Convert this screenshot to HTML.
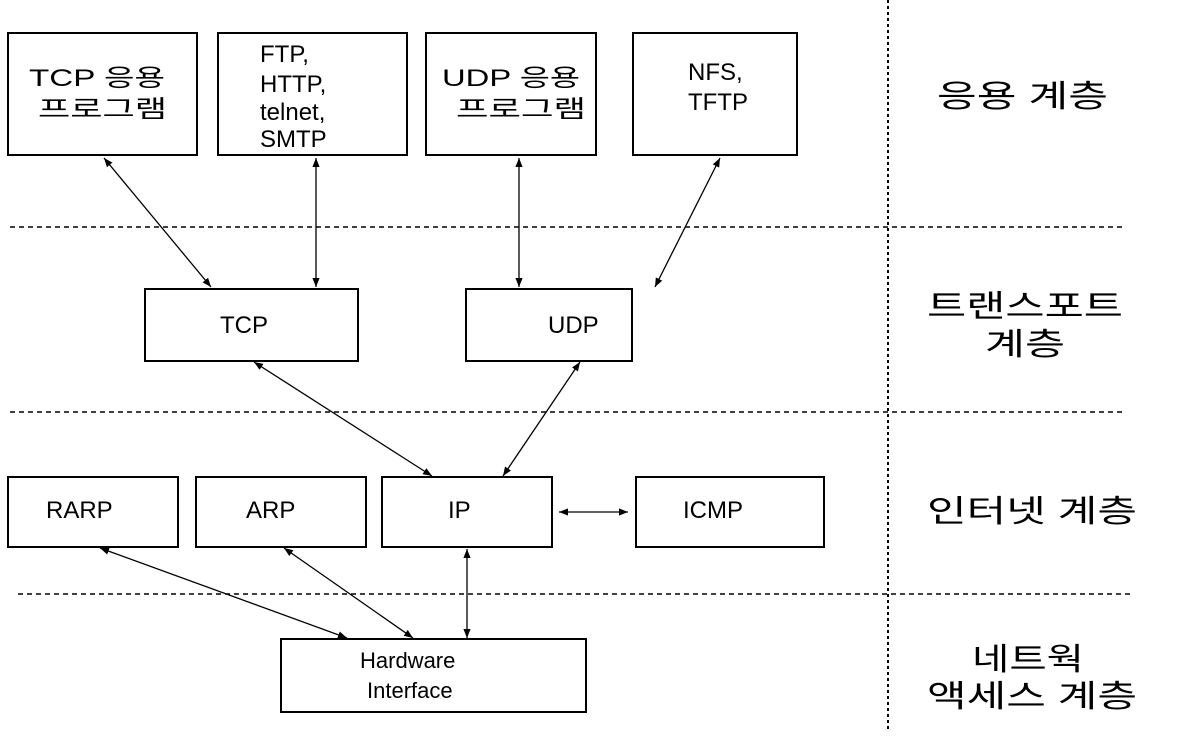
<!DOCTYPE html>
<html><head><meta charset="utf-8"><style>
body{margin:0;background:#fff}
svg text{font-family:"Liberation Sans","Noto Sans CJK KR",sans-serif;fill:#000}
</style></head><body>
<svg width="1196" height="737" viewBox="0 0 1196 737" xmlns="http://www.w3.org/2000/svg">
<defs>
<marker id="a" viewBox="0 0 10 10" refX="10" refY="5" markerWidth="9" markerHeight="9" orient="auto-start-reverse" markerUnits="userSpaceOnUse"><path d="M0,1 L10,5 L0,9 z" fill="#000"/></marker>
</defs>
<g stroke="#000" stroke-width="1.5" stroke-dasharray="5,4" fill="none">
<line x1="10" y1="227" x2="1125" y2="227"/>
<line x1="10" y1="412" x2="1125" y2="412"/>
<line x1="18" y1="594" x2="1130" y2="594"/>
<line x1="888" y1="0" x2="888" y2="730" stroke-width="2" stroke-dasharray="3,3"/>
</g>
<g stroke="#000" stroke-width="2" fill="#fff">
<rect x="8" y="33" width="189" height="122"/>
<rect x="218" y="33" width="189" height="122"/>
<rect x="426" y="33" width="170" height="122"/>
<rect x="633" y="33" width="164" height="122"/>
<rect x="145" y="289" width="213" height="72"/>
<rect x="466" y="289" width="166" height="72"/>
<rect x="8" y="477" width="170" height="70"/>
<rect x="196" y="477" width="170" height="70"/>
<rect x="382" y="477" width="170" height="70"/>
<rect x="636" y="477" width="188" height="70"/>
<rect x="281" y="639" width="305" height="73"/>
</g>
<g stroke="#000" stroke-width="1.3" marker-start="url(#a)" marker-end="url(#a)">
<line x1="104" y1="158" x2="211" y2="287"/>
<line x1="316" y1="158" x2="316" y2="287"/>
<line x1="519" y1="158" x2="519" y2="287"/>
<line x1="720" y1="158" x2="655" y2="287"/>
<line x1="254" y1="362" x2="432" y2="476"/>
<line x1="580" y1="362" x2="503" y2="476"/>
<line x1="559" y1="512" x2="628" y2="512"/>
<line x1="100" y1="548" x2="347" y2="638"/>
<line x1="284" y1="548" x2="413" y2="638"/>
<line x1="467" y1="549" x2="467" y2="638"/>
</g>
<g font-size="24">
<text x="29" y="86" textLength="136" lengthAdjust="spacingAndGlyphs">TCP 응용</text>
<text x="38" y="117" textLength="129" lengthAdjust="spacingAndGlyphs">프로그램</text>
<text x="260" y="62">FTP,</text>
<text x="260" y="92">HTTP,</text>
<text x="260" y="120">telnet,</text>
<text x="260" y="147">SMTP</text>
<text x="442" y="86" textLength="138" lengthAdjust="spacingAndGlyphs">UDP 응용</text>
<text x="456" y="117" textLength="130" lengthAdjust="spacingAndGlyphs">프로그램</text>
<text x="688" y="80">NFS,</text>
<text x="688" y="110">TFTP</text>
<text x="220" y="333">TCP</text>
<text x="548" y="333">UDP</text>
<text x="46" y="518">RARP</text>
<text x="246" y="518">ARP</text>
<text x="448" y="518">IP</text>
<text x="683" y="518">ICMP</text>
<text x="360" y="668" font-size="22">Hardware</text>
<text x="367" y="698" font-size="22">Interface</text>
</g>
<g font-size="31">
<text x="937" y="107" textLength="171" lengthAdjust="spacingAndGlyphs">응용 계층</text>
<text x="927" y="317" textLength="196" lengthAdjust="spacingAndGlyphs">트랜스포트</text>
<text x="985" y="355" textLength="80" lengthAdjust="spacingAndGlyphs">계층</text>
<text x="927" y="522" textLength="210" lengthAdjust="spacingAndGlyphs">인터넷 계층</text>
<text x="972" y="670" textLength="112" lengthAdjust="spacingAndGlyphs">네트웍</text>
<text x="927" y="707" textLength="210" lengthAdjust="spacingAndGlyphs">액세스 계층</text>
</g>
</svg>
</body></html>
